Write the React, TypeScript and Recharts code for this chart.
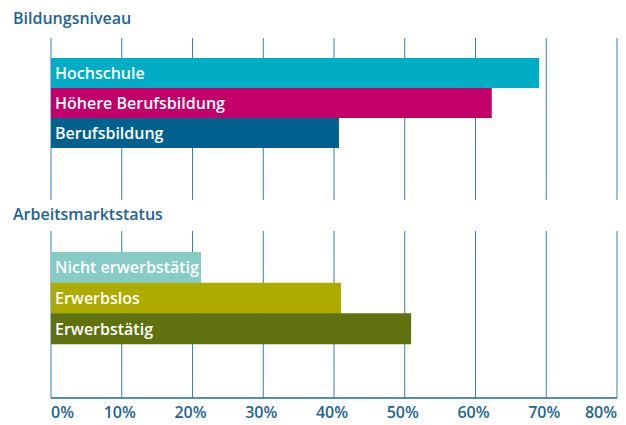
import React from "react";
import { BarChart, Bar, XAxis, YAxis, CartesianGrid, LabelList, Cell } from "recharts";

const bildungNames = ["Hochschule", "Höhere Berufsbildung", "Berufsbildung"];
const bildungValues = [69.0, 62.3, 40.7];
const bildungColors = ["#00adc5", "#c3006a", "#00618f"];

const arbeitNames = ["Nicht erwerbstätig", "Erwerbslos", "Erwerbstätig"];
const arbeitValues = [21.2, 41.0, 50.9];
const arbeitColors = ["#86cbc6", "#adab00", "#5f720f"];

const xTicks = [0, 10, 20, 30, 40, 50, 60, 70, 80];

const FONT = "'Open Sans', sans-serif";
const BLUE = "#1d6494";
const GRID = "#3a7fae";

const bildungData = bildungNames.map((name, i) => ({ name, value: bildungValues[i] }));
const arbeitData = arbeitNames.map((name, i) => ({ name, value: arbeitValues[i] }));

function PercentTick(props: any) {
  const { x, y, payload } = props;
  const v = payload.value;
  let anchor = "middle";
  let dx = -2;
  if (v === 0) {
    anchor = "start";
    dx = 0;
  } else if (v === 80) {
    anchor = "end";
    dx = 0;
  }
  return (
    <text
      x={x + dx}
      y={y + 20}
      textAnchor={anchor}
      fill={BLUE}
      fontFamily={FONT}
      fontWeight={600}
      fontSize={16}
    >
      {v}%
    </text>
  );
}

function Title({ text, top }: { text: string; top: number }) {
  return (
    <div
      style={{
        position: "absolute",
        left: 13,
        top,
        fontFamily: FONT,
        fontWeight: 600,
        fontSize: 16,
        lineHeight: "16px",
        color: BLUE,
        whiteSpace: "nowrap",
      }}
    >
      {text}
    </div>
  );
}

export default function App() {
  return (
    <div style={{ position: "absolute", left: 0, top: 0, width: 626, height: 425, background: "#fff" }}>
      <Title text="Bildungsniveau" top={10} />
      <Title text="Arbeitsmarktstatus" top={206} />

      <div style={{ position: "absolute", left: 0, top: 0 }}>
        <BarChart
          width={626}
          height={200}
          data={bildungData}
          layout="vertical"
          margin={{ top: 38, right: 9, bottom: 0, left: 51 }}
          barCategoryGap={0}
        >
          <CartesianGrid horizontal={false} stroke={GRID} strokeWidth={1} />
          <XAxis type="number" domain={[0, 80]} ticks={xTicks} hide />
          <YAxis type="category" dataKey="name" hide padding={{ top: 20, bottom: 52 }} />
          <Bar dataKey="value" isAnimationActive={false}>
            {bildungData.map((d, i) => (
              <Cell key={d.name} fill={bildungColors[i]} />
            ))}
            <LabelList
              dataKey="name"
              position="insideLeft"
              offset={4}
              fill="#ffffff"
              fontFamily={FONT}
              fontWeight={600}
              fontSize={16}
            />
          </Bar>
        </BarChart>
      </div>

      <div style={{ position: "absolute", left: 0, top: 0 }}>
        <BarChart
          width={626}
          height={425}
          data={arbeitData}
          layout="vertical"
          margin={{ top: 231, right: 9, bottom: 0, left: 51 }}
          barCategoryGap={0}
        >
          <CartesianGrid horizontal={false} stroke={GRID} strokeWidth={1} />
          <XAxis
            type="number"
            domain={[0, 80]}
            ticks={xTicks}
            height={27}
            axisLine={{ stroke: "#1a6a9a", strokeWidth: 1.5 }}
            tickLine={false}
            tickSize={0}
            tickMargin={0}
            tick={<PercentTick />}
            interval={0}
          />
          <YAxis type="category" dataKey="name" hide padding={{ top: 21, bottom: 54 }} />
          <Bar dataKey="value" isAnimationActive={false}>
            {arbeitData.map((d, i) => (
              <Cell key={d.name} fill={arbeitColors[i]} />
            ))}
            <LabelList
              dataKey="name"
              position="insideLeft"
              offset={4}
              fill="#ffffff"
              fontFamily={FONT}
              fontWeight={600}
              fontSize={16}
            />
          </Bar>
        </BarChart>
      </div>
    </div>
  );
}
